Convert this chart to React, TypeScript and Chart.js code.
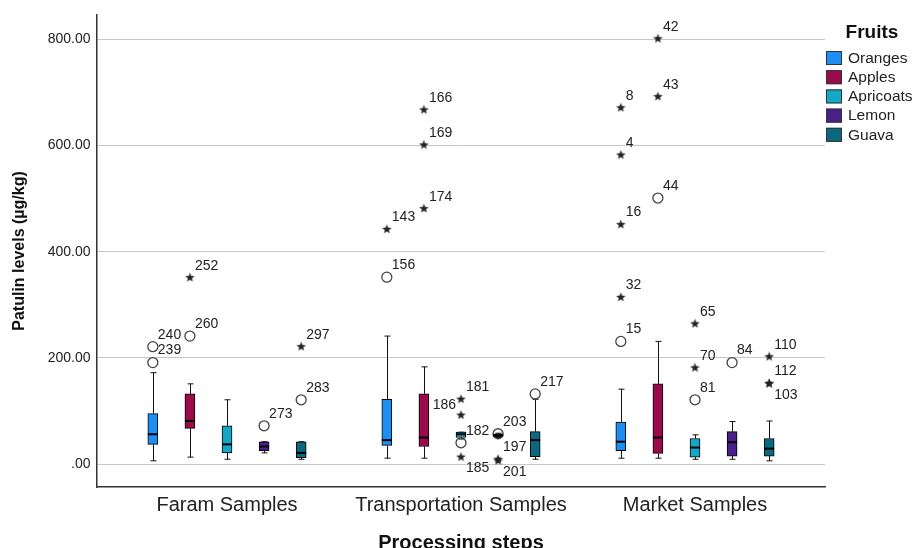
import React, { useEffect, useRef } from "react";
import { Chart, registerables } from "chart.js";

Chart.register(...registerables);

const groups = ["Faram Samples", "Transportation Samples", "Market Samples"];
const fruits = ["Oranges", "Apples", "Apricoats", "Lemon", "Guava"];
const fruitColors = ["#1e8ef2", "#9b0b4b", "#16a6c6", "#4a1f8a", "#0c687e"];
const yTicks = [0, 200, 400, 600, 800];

// [lower whisker, Q1, median, Q3, upper whisker] for Farm, Transportation, Market
const orangesBox = [[6, 37, 56, 95, 172], [11, 35, 45, 122, 241], [11, 25, 42, 79, 141]];
const applesBox = [[13, 67, 81, 132, 151], [11, 33, 50, 132, 183], [11, 20, 50, 151, 231]];
const apricotsBox = [[9, 21, 37, 72, 121], [47, 50, 56, 60, 60], [9, 13, 31, 48, 55]];
const lemonBox = [[21, 25, 33, 42, 42], [50, 51, 54, 57, 58], [9, 15, 41, 61, 80]];
const guavaBox = [[9, 12, 21, 42, 42], [9, 14, 45, 61, 122], [6, 15, 29, 48, 81]];

// outliers (circles): [group index, value, case id]
const orangesOutliers = [[0, 191, "239"], [0, 221, "240"], [1, 352, "156"], [2, 231, "15"]];
const applesOutliers = [[0, 241, "260"], [2, 501, "44"]];
const apricotsOutliers = [[1, 40, "182"], [2, 121, "81"]];
const lemonOutliers = [[0, 72, "273"], [1, 57, "203"], [2, 191, "84"]];
const guavaOutliers = [[0, 121, "283"], [1, 132, "217"]];

// extreme values (stars): [group index, value, case id]
const orangesExtremes = [[1, 442, "143"], [2, 314, "32"], [2, 451, "16"], [2, 582, "4"], [2, 671, "8"]];
const applesExtremes = [[0, 351, "252"], [1, 481, "174"], [1, 601, "169"], [1, 667, "166"], [2, 692, "43"], [2, 801, "42"]];
const apricotsExtremes = [[1, 122, "181"], [1, 92, "186"], [1, 13, "185"], [2, 181, "70"], [2, 264, "65"]];
const lemonExtremes = [[1, 9, "197"], [1, 6, "201"]];
const guavaExtremes = [[0, 221, "297"], [2, 202, "110"], [2, 152, "112"], [2, 151, "103"]];

const labelBelow = ["185", "201", "103"];
const labelLeft = ["186"];

const boxes = [orangesBox, applesBox, apricotsBox, lemonBox, guavaBox];
const outliers = [orangesOutliers, applesOutliers, apricotsOutliers, lemonOutliers, guavaOutliers];
const extremes = [orangesExtremes, applesExtremes, apricotsExtremes, lemonExtremes, guavaExtremes];

const FONT = '"Liberation Sans", Arial, Helvetica, sans-serif';
const FRUIT_STEP = 0.1585;
const xPos = (g: number, f: number) => g + 1 + (f - 2) * FRUIT_STEP;

function makeStar() {
  const c = document.createElement("canvas");
  c.width = 11;
  c.height = 11;
  const ctx = c.getContext("2d")!;
  ctx.fillStyle = "#222";
  ctx.beginPath();
  for (let i = 0; i < 10; i++) {
    const r = i % 2 === 0 ? 5 : 2.1;
    const a = -Math.PI / 2 + (i * Math.PI) / 5;
    const px = 5.5 + r * Math.cos(a);
    const py = 5.5 + r * Math.sin(a);
    if (i === 0) ctx.moveTo(px, py);
    else ctx.lineTo(px, py);
  }
  ctx.closePath();
  ctx.fill();
  return c;
}

const boxPlugin = {
  id: "boxParts",
  beforeDatasetsDraw(chart: any) {
    const { ctx, scales } = chart;
    const x = scales.x;
    const y = scales.y;
    ctx.save();
    ctx.strokeStyle = "#111";
    ctx.lineWidth = 1;
    boxes.forEach((fb, f) =>
      fb.forEach((b, g) => {
        const cx = Math.round(x.getPixelForValue(xPos(g, f))) + 0.5;
        const lo = y.getPixelForValue(b[0]);
        const q1 = y.getPixelForValue(b[1]);
        const q3 = y.getPixelForValue(b[3]);
        const hi = y.getPixelForValue(b[4]);
        ctx.beginPath();
        ctx.moveTo(cx, hi);
        ctx.lineTo(cx, q3);
        ctx.moveTo(cx, q1);
        ctx.lineTo(cx, lo);
        ctx.moveTo(cx - 3, hi);
        ctx.lineTo(cx + 3, hi);
        ctx.moveTo(cx - 3, lo);
        ctx.lineTo(cx + 3, lo);
        ctx.stroke();
      })
    );
    ctx.restore();
  },
  afterDatasetsDraw(chart: any) {
    const { ctx, scales } = chart;
    const x = scales.x;
    const y = scales.y;
    ctx.save();
    ctx.strokeStyle = "#000";
    ctx.lineWidth = 2;
    boxes.forEach((fb, f) =>
      fb.forEach((b, g) => {
        const cx = x.getPixelForValue(xPos(g, f));
        const m = y.getPixelForValue(b[2]);
        ctx.beginPath();
        ctx.moveTo(cx - 5, m);
        ctx.lineTo(cx + 5, m);
        ctx.stroke();
      })
    );
    ctx.fillStyle = "#222";
    ctx.font = `14px ${FONT}`;
    ctx.textBaseline = "middle";
    const all = [...outliers, ...extremes];
    all.forEach((list, k) => {
      const f = k % 5;
      list.forEach(([g, v, id]: any) => {
        const px = x.getPixelForValue(xPos(g, f));
        const py = y.getPixelForValue(v);
        if (labelBelow.includes(id)) {
          ctx.textAlign = "left";
          ctx.fillText(id, px + 5, py + 11);
        } else if (labelLeft.includes(id)) {
          ctx.textAlign = "right";
          ctx.fillText(id, px - 5, py - 10);
        } else {
          ctx.textAlign = "left";
          ctx.fillText(id, px + 5, py - 12);
        }
      });
    });
    ctx.restore();
  },
  afterDraw(chart: any) {
    const { ctx } = chart;
    ctx.save();
    ctx.fillStyle = "#111";
    ctx.textBaseline = "middle";
    ctx.textAlign = "center";
    ctx.font = `bold 19px ${FONT}`;
    ctx.fillText("Fruits", 872, 33);
    ctx.textAlign = "left";
    ctx.font = `15.5px ${FONT}`;
    fruits.forEach((name, i) => {
      const top = 51 + i * 19.2;
      ctx.fillStyle = fruitColors[i];
      ctx.fillRect(826, top, 16, 14);
      ctx.strokeStyle = "#333";
      ctx.lineWidth = 1;
      ctx.strokeRect(826.5, top + 0.5, 15, 13);
      ctx.fillStyle = "#222";
      ctx.fillText(name, 848, top + 7.5);
    });
    ctx.restore();
  },
};

export default function App() {
  const ref = useRef<HTMLCanvasElement | null>(null);

  useEffect(() => {
    if (!ref.current) return;
    const star = makeStar();

    const boxSets = boxes.map((fb, f) => ({
      type: "bar" as const,
      label: fruits[f],
      data: fb.map((b, g) => ({ x: xPos(g, f), y: [b[1], b[3]] })),
      backgroundColor: fruitColors[f],
      borderColor: "#000",
      borderWidth: 1,
      borderSkipped: false,
      barThickness: 10,
      grouped: false,
      order: 10,
    }));

    const circlePoints: any[] = [];
    outliers.forEach((list, f) =>
      list.forEach(([g, v]: any) => circlePoints.push({ x: xPos(g, f), y: v }))
    );
    const starPoints: any[] = [];
    extremes.forEach((list, f) =>
      list.forEach(([g, v]: any) => starPoints.push({ x: xPos(g, f), y: v }))
    );

    const chart = new Chart(ref.current, {
      type: "bar",
      data: {
        datasets: [
          {
            type: "scatter",
            label: "outliers",
            data: circlePoints,
            pointStyle: "circle",
            pointRadius: 5,
            pointBorderColor: "#444",
            pointBorderWidth: 1.3,
            pointBackgroundColor: "rgba(0,0,0,0)",
            order: 0,
          } as any,
          {
            type: "scatter",
            label: "extremes",
            data: starPoints,
            pointStyle: star,
            pointRadius: 5,
            order: 0,
          } as any,
          ...(boxSets as any[]),
        ],
      },
      options: {
        responsive: false,
        animation: false,
        events: [],
        layout: { padding: { left: 0, right: 93, top: 15, bottom: 0 } },
        plugins: {
          legend: { display: false },
          tooltip: { enabled: false },
        },
        scales: {
          x: {
            type: "linear",
            min: 0.4444,
            max: 3.5556,
            offset: false,
            grid: { display: false, drawTicks: false, offset: false },
            border: { display: true, color: "#333", width: 1.5 },
            afterBuildTicks: (s: any) => {
              s.ticks = [1, 2, 3].map((v) => ({ value: v }));
            },
            afterFit: (s: any) => {
              s.height = 61;
            },
            ticks: {
              autoSkip: false,
              maxRotation: 0,
              padding: 6.6,
              color: "#222",
              font: { family: FONT, size: 20 },
              callback: (v: any) => groups[Math.round(v) - 1] ?? "",
            },
            title: {
              display: true,
              text: "Processing steps",
              color: "#111",
              font: { family: FONT, size: 20, weight: "bold" },
              padding: { top: 0, bottom: -7 },
            },
          },
          y: {
            type: "linear",
            min: -43.3,
            max: 845.8,
            grid: { color: "#c8c8c8", lineWidth: 1, drawTicks: false },
            border: { display: true, color: "#333", width: 1.5 },
            afterBuildTicks: (s: any) => {
              s.ticks = yTicks.map((v) => ({ value: v }));
            },
            afterFit: (s: any) => {
              s.width = 97;
            },
            ticks: {
              padding: 6.5,
              color: "#222",
              font: { family: FONT, size: 14 },
              callback: (v: any) => (v === 0 ? ".00" : Number(v).toFixed(2)),
            },
            title: {
              display: true,
              text: "Patulin levels (µg/kg)",
              color: "#111",
              font: { family: FONT, size: 16, weight: "bold" },
              padding: { top: 10, bottom: 0 },
            },
          },
        },
      } as any,
      plugins: [boxPlugin],
    });

    return () => chart.destroy();
  }, []);

  return (
    <div style={{ position: "absolute", left: 0, top: 0, width: 918, height: 548, background: "#fff" }}>
      <canvas ref={ref} width={918} height={548} />
    </div>
  );
}
